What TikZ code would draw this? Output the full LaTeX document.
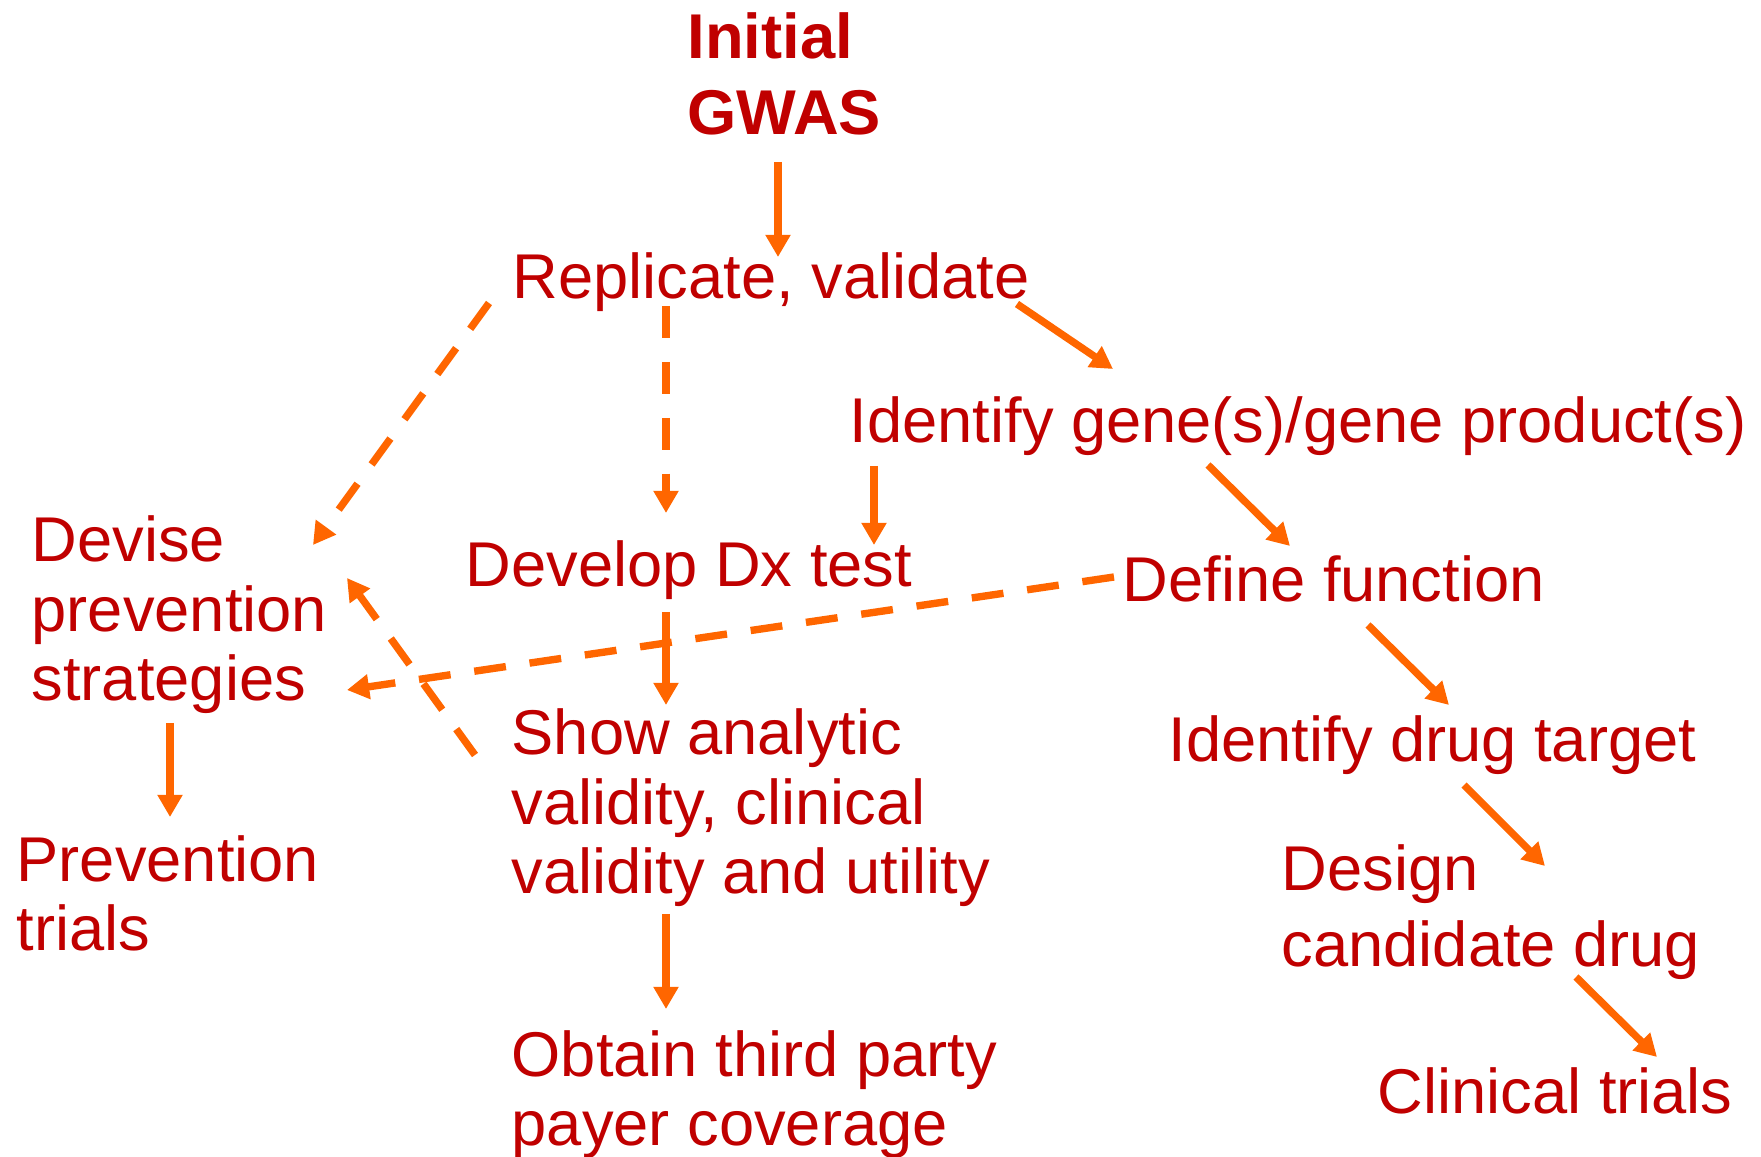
\documentclass[tikz,border=0pt]{standalone}
\usepackage{fontspec}
\setmainfont{Liberation Sans}
\usetikzlibrary{arrows.meta,calc}
\definecolor{gwasred}{HTML}{C00000}
\definecolor{linkorange}{HTML}{FF6600}

\begin{document}
\begin{tikzpicture}[x=0.1mm,y=-0.1mm,
  box/.style={anchor=base west,inner sep=0pt,text=gwasred,align=left,
    font=\fontsize{18pt}{19.8pt}\selectfont},
  link/.style={draw=linkorange,line width=2.1pt,-{Triangle[length=6.3pt,width=6.8pt]}},
  maybe/.style={link,dash pattern=on 9.1pt off 6.8pt}]
\useasboundingbox (0,0) rectangle (1761,1157);

% nodes sit on the baseline of their last line
\node[box,font=\fontsize{18pt}{21.9pt}\selectfont\bfseries] (gwas) at (687,135) {Initial\\GWAS};
\node[box] (rep)    at (512,299)  {Replicate, validate};
\node[box] (gene)   at (849,443)  {Identify gene(s)/gene product(s)};
\node[box] (devise) at (31,701)   {Devise\\prevention\\strategies};
\node[box] (dx)     at (465,587)  {Develop Dx test};
\node[box] (func)   at (1122,602) {Define function};
\node[box] (show)   at (511,894)  {Show analytic\\validity, clinical\\validity and utility};
\node[box] (target) at (1168,762) {Identify drug target};
\node[box] (ptrial) at (16,951)   {Prevention\\trials};
\node[box,font=\fontsize{18pt}{21.9pt}\selectfont] (design) at (1281,967) {Design\\candidate drug};
\node[box] (payer)  at (511,1146) {Obtain third party\\payer coverage};
\node[box] (clin)   at (1377,1113) {Clinical trials};

\draw[link]  ($(gwas.base west)+(91,27)$)  -- ($(rep.base west)+(266,-42)$);
\draw[link]  ($(rep.base west)+(505,5)$)   -- ($(gene.base west)+(264,-74)$);
\draw[maybe] ($(rep.base west)+(154,7)$)   -- ($(dx.base west)+(201,-74)$);
\draw[maybe] ($(rep.base west)+(-23,4)$)   -- ($(devise.base west)+(282,-156)$);
\draw[link]  ($(gene.base west)+(25,23)$)  -- ($(dx.base west)+(409,-42)$);
\draw[link]  ($(gene.base west)+(359,22)$) -- ($(func.base west)+(168,-56)$);
\draw[maybe] ($(func.base west)+(-8,-25)$) -- ($(devise.base west)+(316,-11)$);
\draw[link]  ($(dx.base west)+(201,25)$)   -- ($(show.base west)+(155,-189)$);
\draw[maybe] ($(show.base west)+(-36,-139)$) -- ($(devise.base west)+(316,-123)$);
\draw[link]  ($(devise.base west)+(139,22)$) -- ($(ptrial.base west)+(154,-134)$);
\draw[link]  ($(func.base west)+(246,23)$)   -- ($(target.base west)+(281,-57)$);
\draw[link]  ($(target.base west)+(296,23)$) -- ($(design.base west)+(264,-101)$);
\draw[link]  ($(show.base west)+(155,20)$)   -- ($(payer.base west)+(155,-137)$);
\draw[link]  ($(design.base west)+(295,10)$) -- ($(clin.base west)+(280,-56)$);

\end{tikzpicture}
\end{document}
